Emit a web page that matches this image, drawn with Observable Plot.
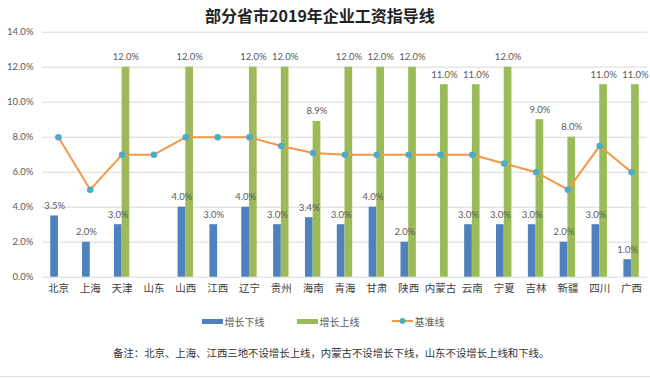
<!DOCTYPE html>
<html>
<head>
<meta charset="utf-8">
<script src="https://cdn.jsdelivr.net/npm/d3@7"></script>
<script src="https://cdn.jsdelivr.net/npm/@observablehq/plot@0.6"></script>
<style>
  html, body { margin: 0; padding: 0; background: #fff; }
  #wrap { position: relative; width: 650px; height: 379px; overflow: hidden; font-family: "Noto Sans CJK SC", sans-serif; }
  #title { position: absolute; top: 0; left: 0; width: 640px; height: 30px; line-height: 30px; text-align: center; font-size: 16px; font-weight: bold; color: #222; }
  #chart { position: absolute; top: 22px; left: 0; }
  #legend { position: absolute; top: 313px; left: 0; width: 646px; height: 16px; display: flex; justify-content: center; align-items: center; gap: 32px; font-size: 10px; color: #595959; }
  .item { display: flex; align-items: center; gap: 2px; }
  #caption { position: absolute; top: 345px; left: 113px; height: 16px; line-height: 16px; font-size: 10.4px; color: #333; white-space: nowrap; }
  #border { position: absolute; top: 376px; left: 0; width: 650px; height: 1px; background: #e0e0e0; }
</style>
</head>
<body>
<div id="wrap">
  <div id="title"></div>
  <div id="chart"></div>
  <div id="legend"></div>
  <div id="caption"></div>
  <div id="border"></div>
</div>
<script>
const titleText = "部分省市2019年企业工资指导线";
const captionText = "备注：北京、上海、江西三地不设增长上线，内蒙古不设增长下线，山东不设增长上线和下线。";
const provinces = ["北京","上海","天津","山东","山西","江西","辽宁","贵州","海南","青海","甘肃","陕西","内蒙古","云南","宁夏","吉林","新疆","四川","广西"];
const lowerLine = [3.5, 2.0, 3.0, null, 4.0, 3.0, 4.0, 3.0, 3.4, 3.0, 4.0, 2.0, null, 3.0, 3.0, 3.0, 2.0, 3.0, 1.0];
const upperLine = [null, null, 12.0, null, 12.0, null, 12.0, 12.0, 8.9, 12.0, 12.0, 12.0, 11.0, 11.0, 12.0, 9.0, 8.0, 11.0, 11.0];
const baseLine = [8.0, 5.0, 7.0, 7.0, 8.0, 8.0, 8.0, 7.5, 7.1, 7.0, 7.0, 7.0, 7.0, 7.0, 6.5, 6.0, 5.0, 7.5, 6.0];
const seriesNames = ["增长下线", "增长上线", "基准线"];
const yTicks = [0, 2, 4, 6, 8, 10, 12, 14];

const colors = { lower: "#4F81BD", upper: "#9BBB59", line: "#F79646", dot: "#4BACC6" };

const toRows = arr => provinces.map((p, i) => ({ p, v: arr[i] })).filter(d => d.v != null);
const lowerRows = toRows(lowerLine);
const upperRows = toRows(upperLine);
const baseRows = toRows(baseLine);

const W = 650, H = 278;
const mL = 42, mR = 3, mT = 9.7, mB = 23.3;
const bw = (W - mL - mR) / provinces.length;
const barW = 7.7;
const fmt = d => d.toFixed(1) + "%";
const numFont = "Lato, 'Noto Sans', sans-serif";

const chart = Plot.plot({
  width: W,
  height: H,
  marginLeft: mL,
  marginRight: mR,
  marginTop: mT,
  marginBottom: mB,
  style: { background: "transparent", overflow: "visible" },
  x: { type: "band", domain: provinces, padding: 0, round: false, label: null },
  y: { domain: [0, 14], label: null },
  marks: [
    Plot.gridY(yTicks, { stroke: "#D9D9D9", strokeOpacity: 1 }),
    Plot.axisY({ ticks: yTicks, tickFormat: fmt, tickSize: 0, tickPadding: 9, fontSize: 9.5, fill: "#595959", fontFamily: numFont, label: null }),
    Plot.axisX({ tickSize: 0, tickPadding: 7, fontSize: 10.5, fill: "#404040", fontFamily: "'Noto Sans CJK SC', sans-serif", label: null }),
    Plot.barY(lowerRows, { x: "p", y: "v", fill: colors.lower, insetLeft: bw / 2 - barW, insetRight: bw / 2 }),
    Plot.barY(upperRows, { x: "p", y: "v", fill: colors.upper, insetLeft: bw / 2, insetRight: bw / 2 - barW }),
    Plot.text(lowerRows, { x: "p", y: "v", text: d => fmt(d.v), dx: -barW / 2, dy: -10, fontSize: 9.5, fill: "#595959", fontFamily: numFont }),
    Plot.text(upperRows, { x: "p", y: "v", text: d => fmt(d.v), dx: barW / 2, dy: -10, fontSize: 9.5, fill: "#595959", fontFamily: numFont }),
    Plot.line(baseRows, { x: "p", y: "v", stroke: colors.line, strokeWidth: 2 }),
    Plot.dot(baseRows, { x: "p", y: "v", r: 3.3, fill: colors.dot, stroke: "none" })
  ]
});
document.getElementById("chart").appendChild(chart);
document.getElementById("title").textContent = titleText;
document.getElementById("caption").textContent = captionText;

const legend = document.getElementById("legend");
const swatches = [
  `<span style="display:inline-block;width:21px;height:5px;background:${colors.lower}"></span>`,
  `<span style="display:inline-block;width:21px;height:5px;background:${colors.upper}"></span>`,
  `<svg width="21" height="8" style="display:block"><line x1="0" y1="4" x2="21" y2="4" stroke="${colors.line}" stroke-width="2"/><circle cx="10.5" cy="4" r="3" fill="${colors.dot}"/></svg>`
];
seriesNames.forEach((name, i) => {
  const el = document.createElement("div");
  el.className = "item";
  el.innerHTML = swatches[i] + `<span>${name}</span>`;
  legend.appendChild(el);
});
</script>
</body>
</html>
